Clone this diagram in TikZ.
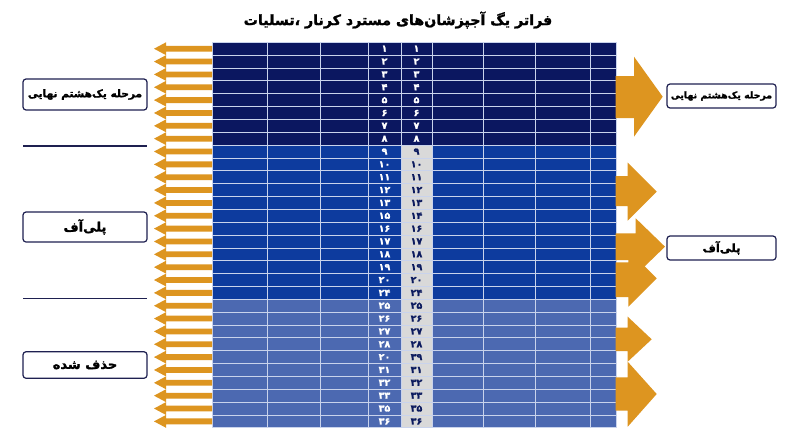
\documentclass[tikz,border=0pt]{standalone}
\usepackage{fontspec}
\setmainfont{DejaVu Sans}
\newfontfamily\fa[Script=Arabic,BoldFeatures={FakeBold=1.5}]{DejaVu Sans}
\TeXXeTstate=1
\definecolor{navy}{HTML}{0B1760}
\definecolor{midblue}{HTML}{0D3B9E}
\definecolor{steel}{HTML}{4C69B1}
\definecolor{cellgray}{HTML}{D9D9D9}
\definecolor{arrowor}{HTML}{DD9520}
\definecolor{boxline}{HTML}{1E2050}
\definecolor{numdark}{HTML}{0B1A5E}
\definecolor{gridline}{HTML}{C9D3EC}
\begin{document}
\begin{tikzpicture}[x=1pt,y=-1pt,
  labelbox/.style={draw=boxline,line width=1.2pt,rounded corners=3pt,fill=white,inner sep=0pt,
    font=\fa\bfseries\fontsize{13}{15}\selectfont,text=black},
  numtext/.style={inner sep=0pt,font=\fa\bfseries\fontsize{9.5}{10}\selectfont},
  gridl/.style={draw=gridline,line width=0.8pt},
  orarrow/.style={fill=arrowor,draw=none},
  sepline/.style={draw=boxline,line width=1.1pt}
]
\useasboundingbox (0,0) rectangle (800,447);
\fill[white] (0,0) rectangle (800,447);
% title
\node[inner sep=0pt,font=\fa\bfseries\fontsize{14.2}{17}\selectfont] (title) at (398,20)
  {\beginR فراتر یگ آجپزشان‌های مسترد کرنار ،تسلیات\endR};
% table backgrounds
\fill[navy] (212,42.3) rectangle (616,145.1);
\fill[midblue] (212,145.1) rectangle (616,299.3);
\fill[steel] (212,299.3) rectangle (616,427.8);
\fill[cellgray] (401,145.1) rectangle (432,427.8);
% grid
\foreach \k in {0,...,30} {
  \pgfmathsetmacro\yy{42.3+\k*12.85}
  \draw[gridl] (212,\yy) -- (616,\yy);
}
\foreach \xx in {212,267,320,368,401,432,483,535,590,616} {
  \draw[gridl] (\xx,42.3) -- (\xx,427.8);
}
% numbers and left arrows
\foreach \l/\r [count=\i] in {۱/۱,۲/۲,۳/۳,۴/۴,۵/۵,۶/۶,۷/۷,۸/۸,
  ۹/۹,۱۰/۱۰,۱۱/۱۱,۱۲/۱۲,۱۳/۱۳,۱۵/۱۴,۱۶/۱۶,۱۷/۱۷,۱۸/۱۸,۱۹/۱۹,۲۰/۲۰,۲۴/۲۴,
  ۲۵/۲۵,۲۶/۲۶,۲۷/۲۷,۲۸/۲۸,۲۰/۳۹,۳۱/۳۱,۳۲/۳۲,۳۳/۳۳,۳۵/۳۵,۳۶/۳۶} {
  \pgfmathsetmacro\yc{42.3+(\i-0.5)*12.85}
  \node[numtext,text=white] (l\i) at (384.5,\yc) {\l};
  \ifnum\i<9
    \node[numtext,text=white] (r\i) at (416.5,\yc) {\r};
  \else
    \node[numtext,text=numdark] (r\i) at (416.5,\yc) {\r};
  \fi
  \fill[orarrow] (212,\yc-2.9) -- (166,\yc-2.9) -- (166,\yc-6.4) -- (154,\yc)
     -- (166,\yc+6.4) -- (166,\yc+2.9) -- (212,\yc+2.9) -- cycle;
}
% right arrows
\fill[orarrow] (615.5,76) -- (634,76) -- (634,56.7) -- (662.7,96.7) -- (634,136.7) -- (634,118) -- (615.5,118) -- cycle;
\fill[orarrow] (615.5,176) -- (627.7,176) -- (627.7,162.7) -- (656.7,191.7) -- (627.7,220.7) -- (627.7,206) -- (615.5,206) -- cycle;
\fill[orarrow] (615.5,262.3) -- (628.3,262.3) -- (628.3,250) -- (656.7,278.3) -- (628.3,306.7) -- (628.3,297) -- (615.5,297) -- cycle;
\fill[orarrow] (615.5,233.3) -- (635.7,233.3) -- (635.7,218.3) -- (665,246.7) -- (635.7,275) -- (635.7,260) -- (615.5,260) -- cycle;
\fill[orarrow] (615.5,327.7) -- (627.7,327.7) -- (627.7,316.7) -- (651.7,339.3) -- (627.7,361.7) -- (627.7,351) -- (615.5,351) -- cycle;
\fill[orarrow] (615.5,377.3) -- (627.7,377.3) -- (627.7,361.7) -- (656.7,394) -- (627.7,426.7) -- (627.7,410.7) -- (615.5,410.7) -- cycle;
% left labels and separators
\node[labelbox,minimum width=124pt,minimum height=31pt,font=\fa\bfseries\fontsize{10.6}{13}\selectfont] (lbA) at (85,94.5) {\beginR مرحله یک‌هشتم نهایی\endR};
\node[labelbox,minimum width=124pt,minimum height=30pt] (lbB) at (85,227) {\beginR پلی‌آف\endR};
\node[labelbox,minimum width=124pt,minimum height=26.5pt] (lbC) at (85,365) {\beginR حذف شده\endR};
\draw[sepline] (23,146) -- (147,146);
\draw[sepline] (23,298.3) -- (147,298.3);
% right labels
\node[labelbox,minimum width=109pt,minimum height=24pt,font=\fa\bfseries\fontsize{9.4}{11}\selectfont] (rbA) at (721.5,96) {\beginR مرحله یک‌هشتم نهایی\endR};
\node[labelbox,minimum width=109pt,minimum height=24pt,font=\fa\bfseries\fontsize{11.5}{13}\selectfont] (rbB) at (721.5,248) {\beginR پلی‌آف\endR};
\end{tikzpicture}
\end{document}
